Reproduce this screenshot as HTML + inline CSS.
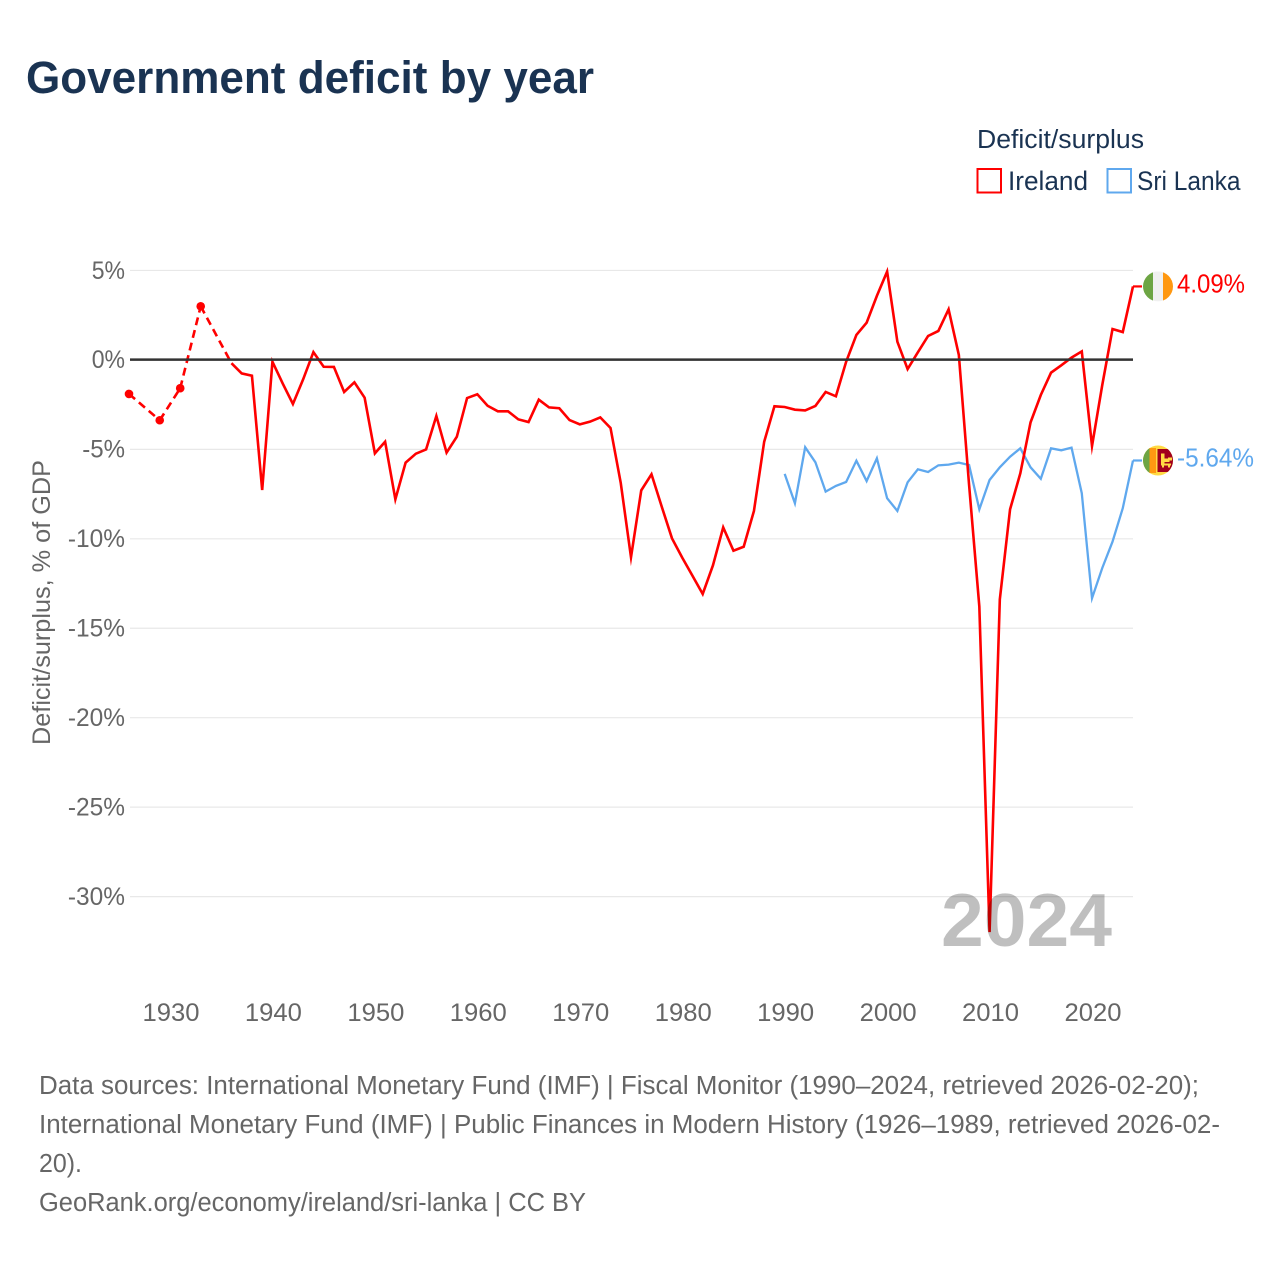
<!DOCTYPE html>
<html lang="en">
<head>
<meta charset="utf-8">
<title>Government deficit by year</title>
<style>
html,body{margin:0;padding:0;background:#fff;width:1280px;height:1280px;overflow:hidden}
svg{display:block}
text{font-family:"Liberation Sans",sans-serif}
</style>
</head>
<body>
<svg id="chart" xmlns="http://www.w3.org/2000/svg" width="1280" height="1280" viewBox="0 0 1280 1280">
  <defs>
    <clipPath id="flag-clip"><circle cx="0" cy="0" r="15"/></clipPath>
  </defs>
  <rect x="0" y="0" width="1280" height="1280" fill="#ffffff"/>
  <text x="26" y="93" font-size="45" font-weight="700" fill="#1a3352" textLength="568" lengthAdjust="spacingAndGlyphs">Government deficit by year</text>

  <text x="977" y="148" font-size="25.5" fill="#1a3352" textLength="167" lengthAdjust="spacingAndGlyphs">Deficit/surplus</text>
  <rect x="977.5" y="169" width="23.5" height="23.5" fill="none" stroke="#ff0000" stroke-width="2"/>
  <text x="1008" y="190" font-size="27" fill="#1a3352" textLength="80" lengthAdjust="spacingAndGlyphs">Ireland</text>
  <rect x="1107.5" y="169" width="23.5" height="23.5" fill="none" stroke="#5fa8ee" stroke-width="2"/>
  <text x="1137" y="190" font-size="27" fill="#1a3352" textLength="103.5" lengthAdjust="spacingAndGlyphs">Sri Lanka</text>

  <g id="grid"></g>
  <g id="y-labels"></g>
  <g id="x-labels"></g>
  <text transform="translate(50,745) rotate(-90)" font-size="25" fill="#666666" textLength="285" lengthAdjust="spacingAndGlyphs">Deficit/surplus, % of GDP</text>

  <g id="series"></g>
  <line id="zero-line" x1="130" x2="1133" stroke="#333333" stroke-width="2.5"/>
  <text x="941" y="946" font-size="75" font-weight="700" fill="#000000" fill-opacity="0.25" textLength="171" lengthAdjust="spacingAndGlyphs">2024</text>

  <g id="end-markers"></g>

  <g font-size="25.5" fill="#666666">
    <text x="39" y="1094" textLength="1160" lengthAdjust="spacingAndGlyphs">Data sources: International Monetary Fund (IMF) | Fiscal Monitor (1990–2024, retrieved 2026-02-20);</text>
    <text x="39" y="1133" textLength="1181" lengthAdjust="spacingAndGlyphs">International Monetary Fund (IMF) | Public Finances in Modern History (1926–1989, retrieved 2026-02-</text>
    <text x="39" y="1172" textLength="43" lengthAdjust="spacingAndGlyphs">20).</text>
    <text x="39" y="1211" textLength="547" lengthAdjust="spacingAndGlyphs">GeoRank.org/economy/ireland/sri-lanka | CC BY</text>
  </g>
</svg>
<script>
const yTicks = [5, 0, -5, -10, -15, -20, -25, -30];
const xTicks = [1930, 1940, 1950, 1960, 1970, 1980, 1990, 2000, 2010, 2020];

const irelandYears = [1926, 1929, 1931, 1933, 1936, 1937, 1938, 1939, 1940, 1941, 1942, 1943, 1944, 1945, 1946, 1947, 1948, 1949, 1950, 1951, 1952, 1953, 1954, 1955, 1956, 1957, 1958, 1959, 1960, 1961, 1962, 1963, 1964, 1965, 1966, 1967, 1968, 1969, 1970, 1971, 1972, 1973, 1974, 1975, 1976, 1977, 1978, 1979, 1980, 1981, 1982, 1983, 1984, 1985, 1986, 1987, 1988, 1989, 1990, 1991, 1992, 1993, 1994, 1995, 1996, 1997, 1998, 1999, 2000, 2001, 2002, 2003, 2004, 2005, 2006, 2007, 2008, 2009, 2010, 2011, 2012, 2013, 2014, 2015, 2016, 2017, 2018, 2019, 2020, 2021, 2022, 2023, 2024];
const irelandValues = [-1.92, -3.39, -1.6, 2.98, -0.2, -0.77, -0.9, -7.29, -0.12, -1.33, -2.48, -1.1, 0.42, -0.4, -0.41, -1.81, -1.27, -2.13, -5.24, -4.59, -7.81, -5.76, -5.26, -5.02, -3.15, -5.2, -4.31, -2.15, -1.94, -2.58, -2.89, -2.89, -3.34, -3.49, -2.24, -2.67, -2.72, -3.38, -3.62, -3.47, -3.23, -3.82, -6.9, -11.05, -7.31, -6.41, -8.22, -9.99, -11.07, -12.08, -13.1, -11.5, -9.38, -10.68, -10.46, -8.46, -4.59, -2.61, -2.65, -2.8, -2.84, -2.59, -1.81, -2.05, -0.12, 1.38, 2.06, 3.56, 4.92, 1.0, -0.53, 0.41, 1.32, 1.6, 2.81, 0.26, -7.0, -13.8, -32.0, -13.4, -8.37, -6.36, -3.51, -1.98, -0.73, -0.32, 0.11, 0.46, -4.83, -1.42, 1.71, 1.54, 4.09];

const sriLankaYears = [1990, 1991, 1992, 1993, 1994, 1995, 1996, 1997, 1998, 1999, 2000, 2001, 2002, 2003, 2004, 2005, 2006, 2007, 2008, 2009, 2010, 2011, 2012, 2013, 2014, 2015, 2016, 2017, 2018, 2019, 2020, 2021, 2022, 2023, 2024];
const sriLankaValues = [-6.39, -8.03, -4.9, -5.74, -7.38, -7.06, -6.84, -5.65, -6.79, -5.52, -7.75, -8.46, -6.86, -6.13, -6.28, -5.91, -5.87, -5.76, -5.89, -8.37, -6.73, -6.02, -5.43, -4.96, -6.02, -6.66, -4.96, -5.07, -4.92, -7.47, -13.34, -11.65, -10.18, -8.31, -5.64];

const NS = 'http://www.w3.org/2000/svg';
function xScale(year) { return 129 + (year - 1926) * (1004 / 98); }
function yScale(v) { return 359.6 - v * 17.89; }
function make(tag, parent, attrs) {
  const el = document.createElementNS(NS, tag);
  for (const k in attrs) el.setAttribute(k, attrs[k]);
  parent.appendChild(el);
  return el;
}
function yLabelWidth(label) {
  let w = 0;
  for (const c of label) w += c === '%' ? 19 : c === '-' ? 9.5 : 14.3;
  return w;
}

const gridLayer = document.getElementById('grid');
const yLabelLayer = document.getElementById('y-labels');
for (const v of yTicks) {
  const label = v + '%';
  if (v !== 0) {
    const line = make('line', gridLayer, { x1: 130, x2: 1133, y1: yScale(v) + 0.3, y2: yScale(v) + 0.3, stroke: '#e8e8e8', 'stroke-width': 1.2 });
    
    
  }
  const t = make('text', yLabelLayer, { x: 125, y: yScale(v) + 8.6, 'text-anchor': 'end', 'font-size': 25, fill: '#666666', textLength: yLabelWidth(label), lengthAdjust: 'spacingAndGlyphs' });
  
  
  t.textContent = label;
}

const xLabelLayer = document.getElementById('x-labels');
for (const yr of xTicks) {
  const t = make('text', xLabelLayer, { x: xScale(yr) + 1, y: 1021, 'text-anchor': 'middle', 'font-size': 25, fill: '#666666', textLength: 57, lengthAdjust: 'spacingAndGlyphs' });
  
  
  t.textContent = yr;
}

document.getElementById('zero-line').setAttribute('y1', yScale(0));
document.getElementById('zero-line').setAttribute('y2', yScale(0));

const seriesLayer = document.getElementById('series');
function drawSeries(years, values, color, width, prefix) {
  let solid = '';
  for (let i = 0; i < years.length - 1; i++) {
    const x1 = xScale(years[i]), y1 = yScale(values[i]);
    const x2 = xScale(years[i + 1]), y2 = yScale(values[i + 1]);
    if (years[i + 1] - years[i] === 1) {
      solid += (solid && solid.endsWith(x1.toFixed(2) + ' ' + y1.toFixed(2)) ? '' : 'M' + x1.toFixed(2) + ' ' + y1.toFixed(2)) + 'L' + x2.toFixed(2) + ' ' + y2.toFixed(2);
    } else {
      const gap = make('line', seriesLayer, { x1: x1, y1: y1, x2: x2, y2: y2, stroke: color, 'stroke-width': width, 'stroke-dasharray': '8 5' });
      
      
    }
  }
  const path = make('path', seriesLayer, { d: solid, fill: 'none', stroke: color, 'stroke-width': width, 'stroke-linejoin': 'miter', 'stroke-miterlimit': 8 });
  
  
  for (let i = 0; i < years.length; i++) {
    const prevGap = i === 0 || years[i] - years[i - 1] !== 1;
    const nextGap = i === years.length - 1 || years[i + 1] - years[i] !== 1;
    if (prevGap && nextGap) {
      const dot = make('circle', seriesLayer, { cx: xScale(years[i]), cy: yScale(values[i]), r: 4.3, fill: color });
      
      
    }
  }
}
drawSeries(sriLankaYears, sriLankaValues, '#5fa8ee', 2.3, 'sri-lanka');
drawSeries(irelandYears, irelandValues, '#ff0000', 2.6, 'ireland');

const endLayer = document.getElementById('end-markers');
function drawEnd(years, values, color, prefix, width, shapes) {
  const last = values[values.length - 1];
  const xEnd = xScale(years[years.length - 1]), y = yScale(last);
  const connector = make('line', endLayer, { x1: xEnd, x2: xEnd + 9, y1: y, y2: y, stroke: color, 'stroke-width': 2.2 });
  
  
  const flag = make('g', endLayer, { transform: 'translate(' + (xEnd + 25) + ',' + y + ')', 'clip-path': 'url(#flag-clip)' });
  
  
  for (const s of shapes) make('rect', flag, { x: s[0], y: s[1], width: s[2], height: s[3], fill: s[4] });
  const label = make('text', endLayer, { x: xEnd + 44, y: y + 6, 'font-size': 25.5, fill: color, textLength: width, lengthAdjust: 'spacingAndGlyphs' });
  
  
  label.textContent = last.toFixed(2) + '%';
}
const irelandFlag = [
  [-15, -15, 10, 30, '#6da544'], [-5, -15, 10, 30, '#f0f0f0'], [5, -15, 10, 30, '#ff9811']
];
const sriLankaFlag = [
  [-15, -15, 30, 30, '#ffda44'],
  [-15, -12.5, 6.5, 25, '#6da544'], [-8.5, -12.5, 6.5, 25, '#ff9811'],
  [-0.5, -11.5, 15.5, 23, '#a2001d'],
  [3, -7, 3.5, 11, '#ffda44'], [3, 3, 10, 2, '#ffda44'], [5.5, -2, 6, 3.5, '#ffda44'], [10, -3, 4, 3, '#ffda44'], [4, 3, 2, 4, '#ffda44'], [10, 3, 2, 4, '#ffda44']
];
drawEnd(irelandYears, irelandValues, '#ff0000', 'ireland', 68, irelandFlag);
drawEnd(sriLankaYears, sriLankaValues, '#5fa8ee', 'sri-lanka', 77, sriLankaFlag);
</script>
</body>
</html>
